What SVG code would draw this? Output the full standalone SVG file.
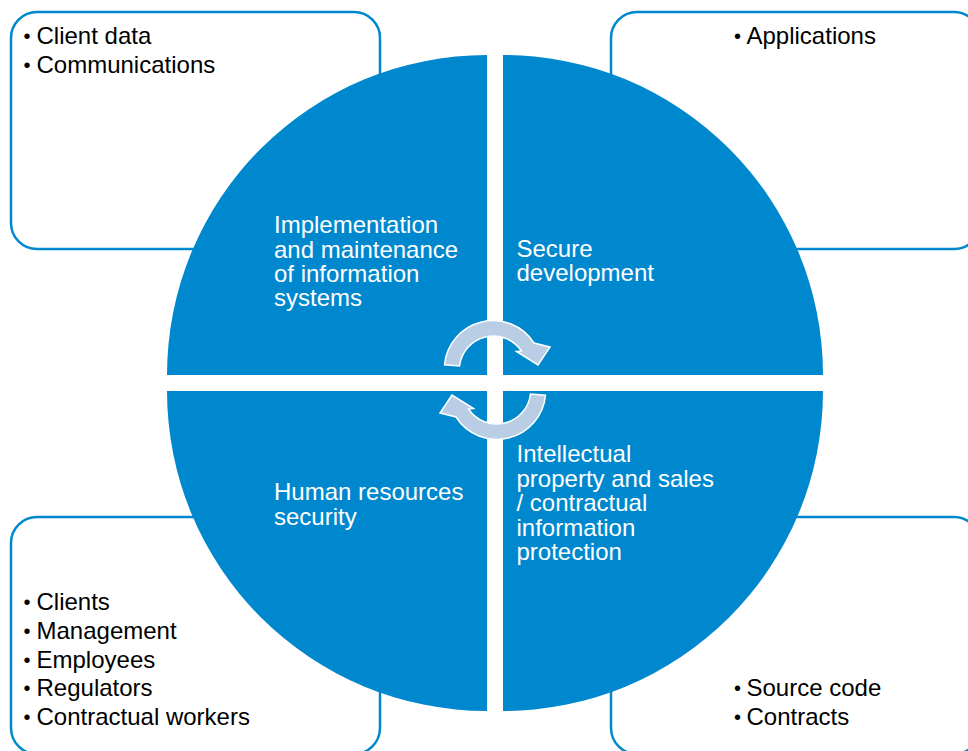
<svg xmlns="http://www.w3.org/2000/svg" width="968" height="751" viewBox="0 0 968 751">
  <style>
    .box { fill: #ffffff; stroke: #0088CE; stroke-width: 2.5; }
    .quad { fill: #0088CE; }
    .item { font-family: "Liberation Sans", Arial, Helvetica, sans-serif; font-size: 24px; fill: #000000; }
    .dot { font-family: "Liberation Sans", Arial, Helvetica, sans-serif; font-size: 20px; fill: #000000; }
    .label { font-family: "Liberation Sans", Arial, Helvetica, sans-serif; font-size: 24px; fill: #ffffff; }
    .cycle { fill: #B9CDE5; stroke: #ffffff; stroke-width: 1.5; stroke-linejoin: miter; }
  </style>
  <rect width="968" height="751" fill="#ffffff"/>

  <!-- Outer rounded boxes with bullet lists -->
  <g id="box-top-left">
    <rect class="box" x="11" y="12" width="369" height="237" rx="26" ry="26"/>
    <text class="dot" x="23.5" y="43">•</text>
    <text class="item" x="36.5" y="44">Client data</text>
    <text class="dot" x="23.5" y="71.75">•</text>
    <text class="item" x="36.5" y="72.75">Communications</text>
  </g>
  <g id="box-top-right">
    <rect class="box" x="611" y="12" width="369" height="237" rx="26" ry="26"/>
    <text class="dot" x="734" y="43">•</text>
    <text class="item" x="746.5" y="44">Applications</text>
  </g>
  <g id="box-bottom-left">
    <rect class="box" x="11" y="517" width="369" height="237" rx="26" ry="26"/>
    <text class="dot" x="23.5" y="609">•</text>
    <text class="item" x="36.5" y="610">Clients</text>
    <text class="dot" x="23.5" y="637.75">•</text>
    <text class="item" x="36.5" y="638.75">Management</text>
    <text class="dot" x="23.5" y="666.5">•</text>
    <text class="item" x="36.5" y="667.5">Employees</text>
    <text class="dot" x="23.5" y="695.25">•</text>
    <text class="item" x="36.5" y="696.25">Regulators</text>
    <text class="dot" x="23.5" y="724">•</text>
    <text class="item" x="36.5" y="725">Contractual workers</text>
  </g>
  <g id="box-bottom-right">
    <rect class="box" x="611" y="517" width="369" height="237" rx="26" ry="26"/>
    <text class="dot" x="734" y="695">•</text>
    <text class="item" x="746.5" y="696">Source code</text>
    <text class="dot" x="734" y="724">•</text>
    <text class="item" x="746.5" y="725">Contracts</text>
  </g>

  <!-- Four quarter-circle segments -->
  <g id="quad-implementation">
    <path class="quad" d="M487 375 L167 375 A320 320 0 0 1 487 55 Z"/>
    <text class="label" x="274" y="233">Implementation</text>
    <text class="label" x="274" y="257.5">and maintenance</text>
    <text class="label" x="274" y="281.75">of information</text>
    <text class="label" x="274" y="306">systems</text>
  </g>
  <g id="quad-secure-development">
    <path class="quad" d="M503 375 L503 55 A320 320 0 0 1 823 375 Z"/>
    <text class="label" x="516.5" y="256.5">Secure</text>
    <text class="label" x="516.5" y="281">development</text>
  </g>
  <g id="quad-human-resources">
    <path class="quad" d="M487 391 L487 711 A320 320 0 0 1 167 391 Z"/>
    <text class="label" x="274" y="500">Human resources</text>
    <text class="label" x="274" y="525">security</text>
  </g>
  <g id="quad-intellectual-property">
    <path class="quad" d="M503 391 L823 391 A320 320 0 0 1 503 711 Z"/>
    <text class="label" x="516.5" y="462">Intellectual</text>
    <text class="label" x="516.5" y="486.5">property and sales</text>
    <text class="label" x="516.5" y="511">/ contractual</text>
    <text class="label" x="516.5" y="535.5">information</text>
    <text class="label" x="516.5" y="560">protection</text>
  </g>

  <!-- Circular cycle arrows in the centre -->
  <g id="connectors">
    <path id="cycle-top" class="cycle" d="M444.5 364.8 A48.7 48.7 0 0 1 534 343 L550 347 L538 365 L516.5 351.5 L521.5 351 A34 34 0 0 0 459.5 366 Z"/>
    <path id="cycle-bottom" class="cycle" transform="rotate(180 495 380)" d="M444.5 364.8 A48.7 48.7 0 0 1 534 343 L550 347 L538 365 L516.5 351.5 L521.5 351 A34 34 0 0 0 459.5 366 Z"/>
  </g>
</svg>
